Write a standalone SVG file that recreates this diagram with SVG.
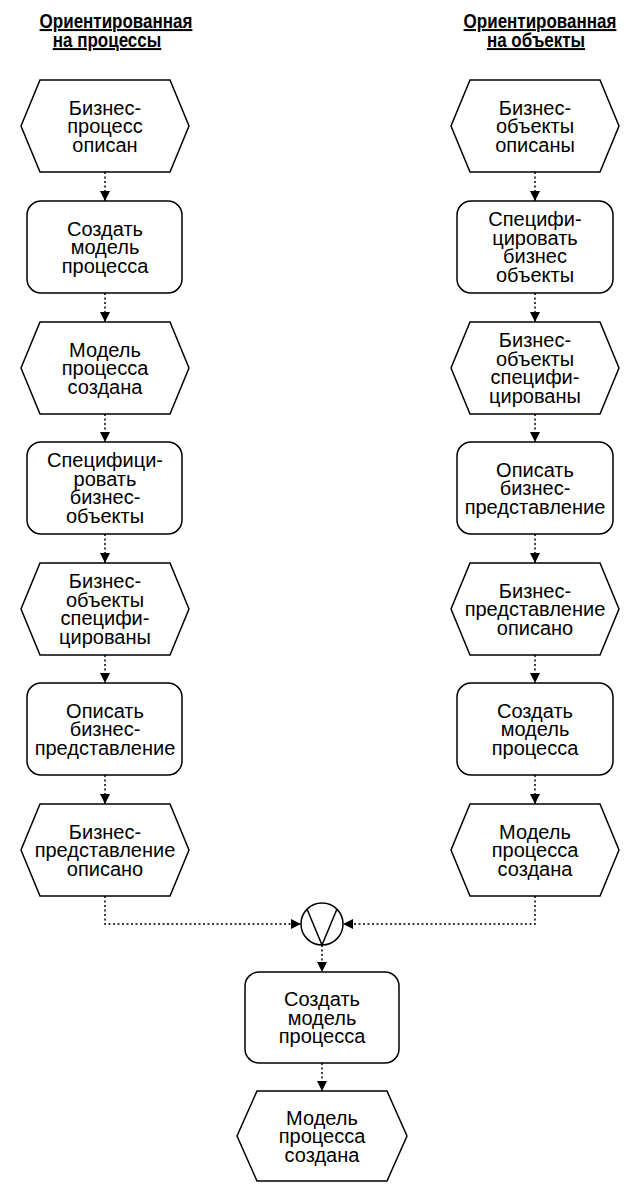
<svg xmlns="http://www.w3.org/2000/svg" width="633" height="1184" viewBox="0 0 633 1184">
<style>
.bg{fill:#fff}
.shape{fill:#fff;stroke:#000;stroke-width:1.5}
.lbl{font-family:"Liberation Sans",Arial,sans-serif;font-size:20px;text-anchor:middle;fill:#000}
.hdr{font-family:"Liberation Sans",Arial,sans-serif;font-size:20px;font-weight:bold;text-anchor:middle;fill:#000;text-decoration:underline}
.con{fill:none;stroke:#000;stroke-width:1.5;stroke-dasharray:2 2.5}
.sym{fill:none;stroke:#000;stroke-width:1.5}
</style>
<defs>
<marker id="arr" viewBox="0 0 10 10" refX="10" refY="5" markerWidth="10" markerHeight="10" markerUnits="userSpaceOnUse" orient="auto">
<path d="M0,0 L10,5 L0,10 z" fill="#000"/>
</marker>
</defs>
<rect class="bg" x="0" y="0" width="633" height="1184"/>

<g id="headers">
<g transform="translate(116,28) scale(0.85,1)"><text class="hdr" x="0" y="0">Ориентированная</text></g>
<g transform="translate(107,47) scale(0.85,1)"><text class="hdr" x="0" y="0">на процессы</text></g>
<g transform="translate(540,28) scale(0.85,1)"><text class="hdr" x="0" y="0">Ориентированная</text></g>
<g transform="translate(536,47) scale(0.85,1)"><text class="hdr" x="0" y="0">на объекты</text></g>
</g>

<g id="connectors">
<path class="con" d="M105,172 V201" marker-end="url(#arr)"/>
<path class="con" d="M105,293 V322" marker-end="url(#arr)"/>
<path class="con" d="M105,414 V442" marker-end="url(#arr)"/>
<path class="con" d="M105,534 V563" marker-end="url(#arr)"/>
<path class="con" d="M105,655 V683" marker-end="url(#arr)"/>
<path class="con" d="M105,775 V804" marker-end="url(#arr)"/>
<path class="con" d="M535,172 V201" marker-end="url(#arr)"/>
<path class="con" d="M535,293 V322" marker-end="url(#arr)"/>
<path class="con" d="M535,414 V442" marker-end="url(#arr)"/>
<path class="con" d="M535,534 V563" marker-end="url(#arr)"/>
<path class="con" d="M535,655 V683" marker-end="url(#arr)"/>
<path class="con" d="M535,775 V804" marker-end="url(#arr)"/>
<path class="con" d="M105,896 V924 H301" marker-end="url(#arr)"/>
<path class="con" d="M535,896 V924 H343" marker-end="url(#arr)"/>
<path class="con" d="M322,945 V972" marker-end="url(#arr)"/>
<path class="con" d="M322,1063 V1091" marker-end="url(#arr)"/>
</g>

<g id="L1"><polygon class="shape" points="40,80 170,80 189,126 170,172 40,172 21,126"/>
<text class="lbl"><tspan x="105" y="114.5">Бизнес-</tspan><tspan x="105" y="133">процесс</tspan><tspan x="105" y="151.5">описан</tspan></text></g>
<g id="L2"><rect class="shape" x="27" y="201" width="155" height="92" rx="14"/>
<text class="lbl"><tspan x="105" y="235.5">Создать</tspan><tspan x="105" y="254">модель</tspan><tspan x="105" y="272.5">процесса</tspan></text></g>
<g id="L3"><polygon class="shape" points="40,322 170,322 189,368 170,414 40,414 21,368"/>
<text class="lbl"><tspan x="105" y="356.5">Модель</tspan><tspan x="105" y="375">процесса</tspan><tspan x="105" y="393.5">создана</tspan></text></g>
<g id="L4"><rect class="shape" x="27" y="442" width="155" height="92" rx="14"/>
<text class="lbl"><tspan x="105" y="467">Специфици-</tspan><tspan x="105" y="485.5">ровать</tspan><tspan x="105" y="504">бизнес-</tspan><tspan x="105" y="522.5">объекты</tspan></text></g>
<g id="L5"><polygon class="shape" points="40,563 170,563 189,609 170,655 40,655 21,609"/>
<text class="lbl"><tspan x="105" y="588">Бизнес-</tspan><tspan x="105" y="606.5">объекты</tspan><tspan x="105" y="625">специфи-</tspan><tspan x="105" y="643.5">цированы</tspan></text></g>
<g id="L6"><rect class="shape" x="27" y="683" width="155" height="92" rx="14"/>
<text class="lbl"><tspan x="105" y="717.5">Описать</tspan><tspan x="105" y="736">бизнес-</tspan><tspan x="105" y="754.5">представление</tspan></text></g>
<g id="L7"><polygon class="shape" points="40,804 170,804 189,850 170,896 40,896 21,850"/>
<text class="lbl"><tspan x="105" y="838.5">Бизнес-</tspan><tspan x="105" y="857">представление</tspan><tspan x="105" y="875.5">описано</tspan></text></g>

<g id="R1"><polygon class="shape" points="470,80 600,80 619,126 600,172 470,172 451,126"/>
<text class="lbl"><tspan x="535" y="114.5">Бизнес-</tspan><tspan x="535" y="133">объекты</tspan><tspan x="535" y="151.5">описаны</tspan></text></g>
<g id="R2"><rect class="shape" x="457" y="201" width="156" height="92" rx="14"/>
<text class="lbl"><tspan x="535" y="226">Специфи-</tspan><tspan x="535" y="244.5">цировать</tspan><tspan x="535" y="263">бизнес</tspan><tspan x="535" y="281.5">объекты</tspan></text></g>
<g id="R3"><polygon class="shape" points="470,322 600,322 619,368 600,414 470,414 451,368"/>
<text class="lbl"><tspan x="535" y="347">Бизнес-</tspan><tspan x="535" y="365.5">объекты</tspan><tspan x="535" y="384">специфи-</tspan><tspan x="535" y="402.5">цированы</tspan></text></g>
<g id="R4"><rect class="shape" x="457" y="442" width="156" height="92" rx="14"/>
<text class="lbl"><tspan x="535" y="476.5">Описать</tspan><tspan x="535" y="495">бизнес-</tspan><tspan x="535" y="513.5">представление</tspan></text></g>
<g id="R5"><polygon class="shape" points="470,563 600,563 619,609 600,655 470,655 451,609"/>
<text class="lbl"><tspan x="535" y="597.5">Бизнес-</tspan><tspan x="535" y="616">представление</tspan><tspan x="535" y="634.5">описано</tspan></text></g>
<g id="R6"><rect class="shape" x="457" y="683" width="156" height="92" rx="14"/>
<text class="lbl"><tspan x="535" y="717.5">Создать</tspan><tspan x="535" y="736">модель</tspan><tspan x="535" y="754.5">процесса</tspan></text></g>
<g id="R7"><polygon class="shape" points="470,804 600,804 619,850 600,896 470,896 451,850"/>
<text class="lbl"><tspan x="535" y="838.5">Модель</tspan><tspan x="535" y="857">процесса</tspan><tspan x="535" y="875.5">создана</tspan></text></g>

<g id="OR"><circle class="sym" cx="322" cy="924" r="21"/>
<path class="sym" d="M307,909 L322,945 L337,909"/></g>

<g id="B1"><rect class="shape" x="245" y="972" width="154" height="91" rx="14"/>
<text class="lbl"><tspan x="322" y="1006">Создать</tspan><tspan x="322" y="1024.5">модель</tspan><tspan x="322" y="1043">процесса</tspan></text></g>
<g id="B2"><polygon class="shape" points="257,1091 387,1091 407,1136 387,1181 257,1181 237,1136"/>
<text class="lbl"><tspan x="322" y="1124.5">Модель</tspan><tspan x="322" y="1143">процесса</tspan><tspan x="322" y="1161.5">создана</tspan></text></g>
</svg>
